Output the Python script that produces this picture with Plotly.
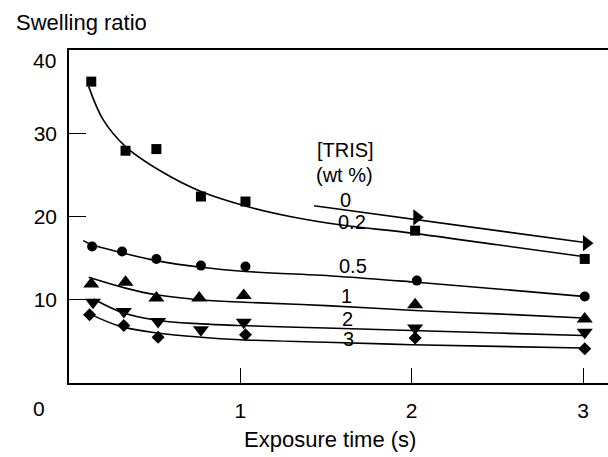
import plotly.graph_objects as go

# Measured swelling ratios vs. exposure time, by TRIS content (wt %)
t_02 = [0.13, 0.33, 0.51, 0.77, 1.03, 2.02, 3.01]
sr_02 = [36.2, 27.9, 28.1, 22.4, 21.8, 18.3, 14.9]

t_05 = [0.135, 0.31, 0.51, 0.77, 1.03, 2.03, 3.01]
sr_05 = [16.4, 15.8, 14.9, 14.1, 14.0, 12.3, 10.4]

t_1 = [0.13, 0.33, 0.51, 0.76, 1.02, 2.02, 3.01]
sr_1 = [11.9, 12.1, 10.2, 10.2, 10.5, 9.4, 7.7]

t_2 = [0.14, 0.32, 0.52, 0.77, 1.02, 2.02, 3.01]
sr_2 = [9.7, 8.6, 7.4, 6.4, 7.3, 6.6, 6.1]

t_3 = [0.12, 0.32, 0.52, 1.03, 2.02, 3.01]
sr_3 = [8.2, 6.9, 5.5, 5.8, 5.4, 4.1]

t_0 = [2.03, 3.02]
sr_0 = [19.9, 16.8]

# Fitted trend curves (sampled points along each fit)
fit_02_x = [0.115, 0.2, 0.33, 0.54, 0.77, 1.04, 1.29, 1.58, 2.0, 2.5, 3.0]
fit_02_y = [35.6, 31.6, 28.4, 25.4, 23.0, 21.2, 20.0, 19.0, 18.0, 16.6, 15.2]

fit_05_x = [0.083, 0.135, 0.3, 0.51, 0.77, 1.03, 1.58, 2.03, 2.5, 3.0]
fit_05_y = [17.1, 16.6, 15.7, 14.7, 13.9, 13.4, 12.8, 12.1, 11.3, 10.4]

fit_1_x = [0.115, 0.33, 0.51, 0.76, 1.02, 1.5, 2.02, 2.5, 3.0]
fit_1_y = [12.7, 11.4, 10.6, 10.0, 9.7, 9.3, 8.7, 8.3, 7.8]

fit_2_x = [0.143, 0.32, 0.52, 0.77, 1.0, 1.5, 2.0, 2.5, 3.0]
fit_2_y = [10.1, 8.4, 7.5, 7.1, 6.9, 6.6, 6.3, 6.0, 5.7]

fit_3_x = [0.12, 0.3, 0.52, 0.77, 1.0, 1.5, 2.0, 2.5, 3.0]
fit_3_y = [8.3, 6.8, 6.0, 5.5, 5.2, 4.9, 4.6, 4.4, 4.2]

fit_0_x = [1.43, 3.0]
fit_0_y = [21.3, 16.9]

# Series labels placed beside the curves
label_text = ["[TRIS]", "(wt %)", "0", "0.2", "0.5", "1", "2", "3"]
label_x = [1.612, 1.606, 1.612, 1.653, 1.659, 1.618, 1.624, 1.63]
label_y = [28.0, 25.0, 22.0, 19.4, 14.0, 10.5, 7.7, 5.3]

x_ticks = [1, 2, 3]
y_ticks = [10, 20, 30]

FONT = "Liberation Sans, Arial, Helvetica, sans-serif"
INK = "#000000"

fig = go.Figure()

for fx, fy, shape in [
    (fit_02_x, fit_02_y, "spline"),
    (fit_05_x, fit_05_y, "spline"),
    (fit_1_x, fit_1_y, "spline"),
    (fit_2_x, fit_2_y, "spline"),
    (fit_3_x, fit_3_y, "spline"),
    (fit_0_x, fit_0_y, "linear"),
]:
    fig.add_trace(go.Scatter(
        x=fx, y=fy, mode="lines",
        line=dict(color=INK, width=1.6, shape=shape, smoothing=1.0),
        hoverinfo="skip", showlegend=False,
    ))

for tx, sy, sym, sz in [
    (t_02, sr_02, "square", 10),
    (t_05, sr_05, "circle", 10),
    (t_1, sr_1, "triangle-up", 14),
    (t_2, sr_2, "triangle-down", 14),
    (t_3, sr_3, "diamond", 10),
    (t_0, sr_0, "triangle-right", 14),
]:
    fig.add_trace(go.Scatter(
        x=tx, y=sy, mode="markers",
        marker=dict(symbol=sym, size=sz, color=INK, line=dict(width=0)),
        showlegend=False,
    ))

annotations = []
for txt, lx, ly in zip(label_text, label_x, label_y):
    annotations.append(dict(
        x=lx, y=ly, xref="x", yref="y", text=txt, showarrow=False,
        font=dict(family=FONT, size=20, color=INK),
        xanchor="center", yanchor="middle",
    ))

# Shared origin label and the top y label, offset from the corners
annotations.append(dict(
    x=0, y=0, xref="x", yref="y", text="0", showarrow=False,
    font=dict(family=FONT, size=21, color=INK),
    xanchor="center", yanchor="middle", xshift=-30, yshift=-25,
))
annotations.append(dict(
    x=0, y=40, xref="x", yref="y", text="40", showarrow=False,
    font=dict(family=FONT, size=21, color=INK),
    xanchor="right", yanchor="middle", xshift=-11, yshift=-10,
))

# Axis titles
annotations.append(dict(
    x=13, y=22, xref="paper", yref="paper", text="Swelling ratio",
    showarrow=False, font=dict(family=FONT, size=22, color=INK),
    xanchor="left", yanchor="middle",
))
annotations.append(dict(
    x=330, y=440, xref="paper", yref="paper", text="Exposure time (s)",
    showarrow=False, font=dict(family=FONT, size=22, color=INK),
    xanchor="center", yanchor="middle",
))

W, H = 608, 457
ML, MT, MB, MR = 68.5, 50, 73.5, 0
pw, ph = W - ML - MR, H - MT - MB

# convert pixel positions of the titles into paper coordinates
for a in annotations:
    if a["xref"] == "paper":
        a["x"] = (a["x"] - ML) / pw
        a["y"] = 1 - (a["y"] - MT) / ph

fig.update_layout(
    width=W, height=H,
    margin=dict(l=ML, r=MR, t=MT, b=MB, pad=0),
    paper_bgcolor="white", plot_bgcolor="white",
    annotations=annotations,
    font=dict(family=FONT, color=INK),
    xaxis=dict(
        range=[0, (W - ML) / 171.5], showgrid=False, zeroline=False,
        showline=True, linecolor=INK, linewidth=1.5, mirror=True,
        tickmode="array", tickvals=x_ticks, ticktext=[str(v) for v in x_ticks],
        ticks="inside", ticklen=15, tickwidth=1.3, tickcolor=INK,
        tickfont=dict(family=FONT, size=21, color=INK),
        ticklabelstandoff=8,
    ),
    yaxis=dict(
        range=[0, 40], showgrid=False, zeroline=False,
        showline=True, linecolor=INK, linewidth=1.5,
        tickmode="array", tickvals=y_ticks, ticktext=[str(v) for v in y_ticks],
        ticks="inside", ticklen=17, tickwidth=1.3, tickcolor=INK,
        tickfont=dict(family=FONT, size=21, color=INK),
        ticklabelstandoff=6,
    ),
)

fig.write_html("out.html")
